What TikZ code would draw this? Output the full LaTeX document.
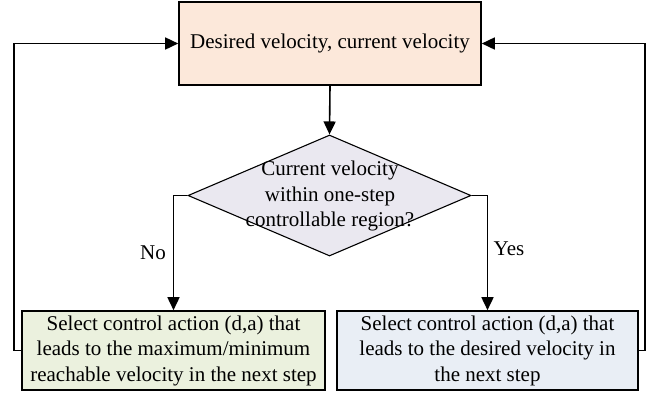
\documentclass[tikz,border=0pt]{standalone}
\usepackage{fontspec}
\setmainfont{Liberation Serif}
\usetikzlibrary{arrows.meta,shapes.geometric}
\definecolor{peach}{RGB}{252,232,218}
\definecolor{lav}{RGB}{234,232,240}
\definecolor{lgreen}{RGB}{235,241,222}
\definecolor{lblue}{RGB}{233,238,245}
\begin{document}
\begin{tikzpicture}[x=1pt,y=-1pt,
  box/.style={draw=black, line width=1.6pt, inner sep=0pt, align=center,
    font=\fontsize{21}{25.5}\selectfont},
  txt/.style={align=center, inner sep=0pt, font=\fontsize{21}{25.5}\selectfont},
  arr/.style={-{Triangle[length=13pt,width=12pt]}, line width=1.6pt},
  ln/.style={line width=1.6pt}]
\useasboundingbox (0,0) rectangle (656,392);
\node[box, fill=peach, minimum width=302pt, minimum height=83pt] (top) at (330,43.5) {Desired velocity, current velocity};
\node[draw=black, diamond, fill=lav, minimum width=283pt, minimum height=121pt, inner sep=0pt, line width=1.1pt] (dia) at (329.5,195.5) {};
\node[txt] (q) at (330,196) {Current velocity\\within one-step\\controllable region?};
\node[box, fill=lgreen, minimum width=303pt, minimum height=79pt] (left) at (173.5,350.5) {Select control action (d,a) that\\leads to the maximum/minimum\\reachable velocity in the next step};
\node[box, fill=lblue, minimum width=301pt, minimum height=79pt] (right) at (487.5,350.5) {Select control action (d,a) that\\leads to the desired velocity in\\the next step};
\node[txt] (no) at (153,253) {No};
\node[txt] (yes) at (509,249) {Yes};
\coordinate (lc) at (14,0);
\coordinate (rc) at (645,0);
\draw[arr] (top.south) -- (dia.north);
\draw[arr] (dia.west) -| (left.north);
\draw[arr] (dia.east) -| (right.north);
\draw[arr] (left.west) -- (left.west -| lc) |- (top.west);
\draw[arr] (right.east) -- (right.east -| rc) |- (top.east);
\end{tikzpicture}
\end{document}
